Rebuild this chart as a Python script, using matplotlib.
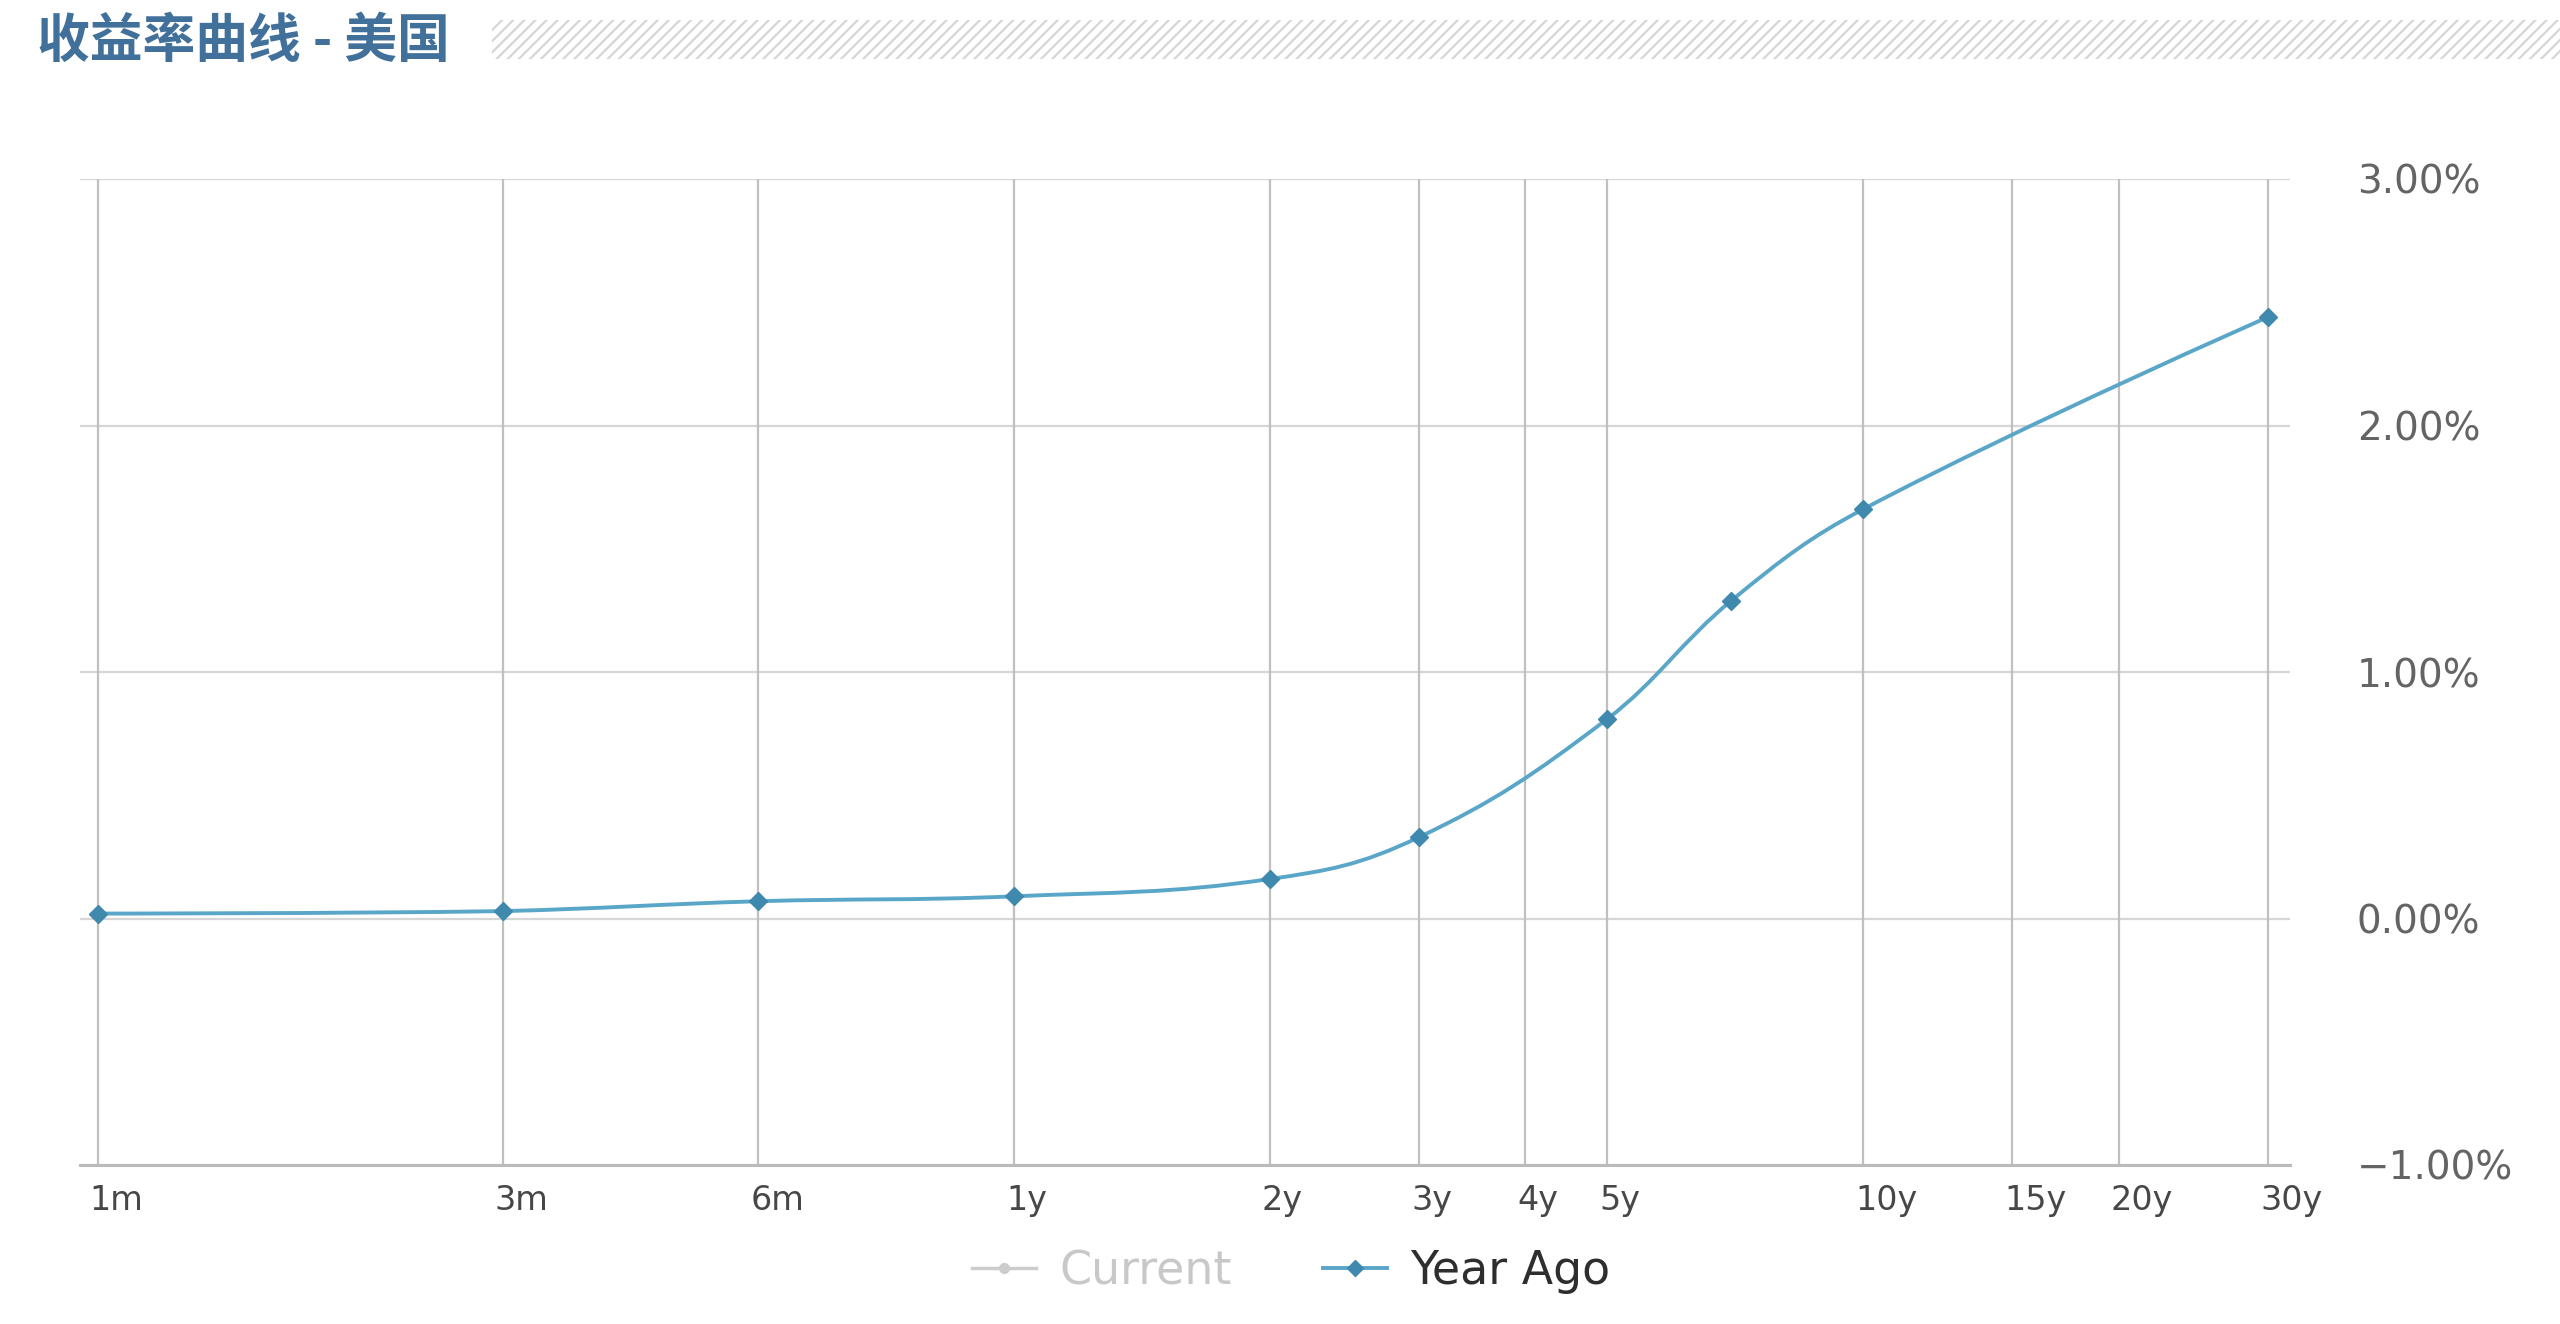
import matplotlib
matplotlib.use('Agg')
import matplotlib.pyplot as plt
import numpy as np
from matplotlib.path import Path
from matplotlib.patches import PathPatch, Rectangle
from matplotlib.lines import Line2D
from matplotlib.ticker import FuncFormatter, NullLocator, FixedLocator
import matplotlib.transforms as mtransforms

plt.rcParams['font.family'] = ['DejaVu Sans', 'Noto Sans CJK SC']
plt.rcParams['hatch.linewidth'] = 1.6

# tick positions (years) and their labels
tick_years = [1/12, 0.25, 0.5, 1, 2, 3, 4, 5, 10, 15, 20, 30]
tick_labels = ['1m', '3m', '6m', '1y', '2y', '3y', '4y', '5y', '10y', '15y', '20y', '30y']

# "Year Ago" yield curve, maturities in years, yields in %
year_ago_maturity = [1/12, 0.25, 0.5, 1, 2, 3, 5, 7, 10, 30]
year_ago_yield = [0.02, 0.03, 0.07, 0.09, 0.16, 0.33, 0.81, 1.29, 1.66, 2.44]

y_ticks = [-1, 0, 1, 2, 3]

line_col = '#5aa6c9'
marker_col = '#3f88ae'


def spline_path(xs, ys, smoothing=1.5):
    # highcharts style spline, control points worked out in log10(x) space
    lx = np.log10(np.asarray(xs, dtype=float))
    ys = np.asarray(ys, dtype=float)
    n = len(lx)
    denom = smoothing + 1
    left = [None] * n
    right = [None] * n
    for i in range(1, n - 1):
        px, py = lx[i], ys[i]
        ax_, ay = lx[i - 1], ys[i - 1]
        nx, ny = lx[i + 1], ys[i + 1]
        lcx = (smoothing * px + ax_) / denom
        lcy = (smoothing * py + ay) / denom
        rcx = (smoothing * px + nx) / denom
        rcy = (smoothing * py + ny) / denom
        if rcx != lcx:
            corr = ((rcy - lcy) * (rcx - px)) / (rcx - lcx) + py - rcy
            lcy += corr
            rcy += corr
        if lcy > ay and lcy > py:
            lcy = max(ay, py)
            rcy = 2 * py - lcy
        elif lcy < ay and lcy < py:
            lcy = min(ay, py)
            rcy = 2 * py - lcy
        if rcy > ny and rcy > py:
            rcy = max(ny, py)
            lcy = 2 * py - rcy
        elif rcy < ny and rcy < py:
            rcy = min(ny, py)
            lcy = 2 * py - rcy
        left[i] = (lcx, lcy)
        right[i] = (rcx, rcy)

    verts = [(lx[0], ys[0])]
    codes = [Path.MOVETO]
    for i in range(1, n):
        c1 = right[i - 1] if right[i - 1] is not None else (lx[i - 1], ys[i - 1])
        c2 = left[i] if left[i] is not None else (lx[i], ys[i])
        verts += [c1, c2, (lx[i], ys[i])]
        codes += [Path.CURVE4] * 3
    verts = [(10 ** vx, vy) for vx, vy in verts]
    return Path(verts, codes)


fig = plt.figure(figsize=(25.6, 13.24), dpi=100)
W, H = 2560, 1324

# plot area in pixels
ax = fig.add_axes([80 / W, 1 - 1165 / H, (2290 - 80) / W, (1165 - 179) / H])
ax.set_xscale('log')
ax.set_xlim(0.0794, 31.84)
ax.set_ylim(-1, 3)

# grid
for t in tick_years:
    ax.axvline(t, color='#c0c0c0', lw=1.6, zorder=1)
for v in y_ticks:
    ax.axhline(v, color='#d6d6d6', lw=1.6, zorder=0.5)

for s in ['top', 'left', 'right']:
    ax.spines[s].set_visible(False)
ax.spines['bottom'].set_color('#bbbbbb')
ax.spines['bottom'].set_linewidth(2.2)

# the smooth curve + markers
patch = PathPatch(spline_path(year_ago_maturity, year_ago_yield), facecolor='none',
                  edgecolor=line_col, lw=2.8, zorder=3, capstyle='round', joinstyle='round')
ax.add_patch(patch)
ax.plot(year_ago_maturity, year_ago_yield, ls='none', marker='D', markersize=9,
        color=marker_col, zorder=4)

# x ticks
ax.xaxis.set_major_locator(FixedLocator(tick_years))
ax.xaxis.set_minor_locator(NullLocator())
ax.set_xticklabels(tick_labels)
ax.tick_params(axis='x', length=0, pad=14, labelsize=24, labelcolor='#474747')
offset = mtransforms.ScaledTranslation(-8 / 100, 0, fig.dpi_scale_trans)
for lab in ax.get_xticklabels():
    lab.set_horizontalalignment('left')
    lab.set_transform(lab.get_transform() + offset)

# y ticks on right
ax.yaxis.tick_right()
ax.set_yticks(y_ticks)
ax.yaxis.set_major_formatter(FuncFormatter(lambda v, p: ('\u2212' if v < 0 else '') + '%.2f%%' % abs(v)))
ax.tick_params(axis='y', length=0, pad=48, labelsize=28, labelcolor='#646464')

# title and hatched band
fig.text(37 / W, 1 - 41 / H, '收益率曲线 - 美国', family=['Noto Sans CJK SC', 'DejaVu Sans'],
         fontsize=38, fontweight='bold', color='#41709a', va='center', ha='left')
band = Rectangle((492 / W, 1 - 59 / H), 1 - 492 / W, 39 / H, transform=fig.transFigure,
                 fill=False, hatch='///', edgecolor='#d6d6d6', lw=0)
fig.patches.append(band)

# legend
h_cur = Line2D([], [], color='#cccccc', lw=2.5, marker='o', markersize=7)
h_ago = Line2D([], [], color=line_col, lw=2.8, marker='D', markersize=8,
               markerfacecolor=marker_col, markeredgecolor=marker_col)
leg = fig.legend([h_cur, h_ago], ['Current', 'Year Ago'], loc='center',
                 bbox_to_anchor=(1291 / W, 1 - 1272 / H), ncol=2, frameon=False,
                 fontsize=33, handlelength=1.4, handletextpad=0.5, columnspacing=2.0)
leg.get_texts()[0].set_color('#c8c8c8')
leg.get_texts()[1].set_color('#2e2e2e')

fig.savefig('out.png', dpi=100)
